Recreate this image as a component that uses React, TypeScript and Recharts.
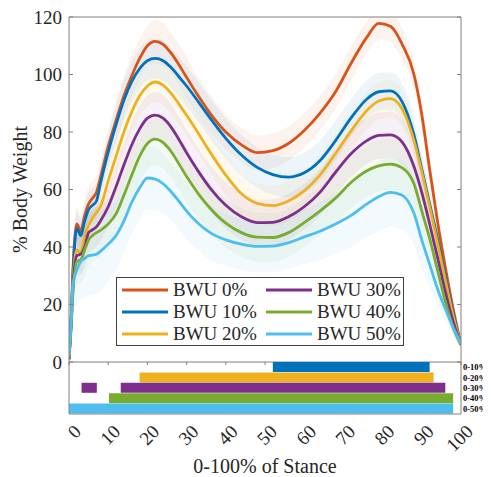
import React from 'react';
import { ComposedChart, Line, Area, XAxis, YAxis, ReferenceLine, BarChart, Bar, Cell, Label } from 'recharts';

// % of stance (x grid shared by every series)
const stance = [0, 0.5, 1, 2, 3, 4, 5, 6, 7, 8, 10, 12, 14, 16, 18, 20, 22, 24, 26, 28, 30, 33, 36, 40, 44, 48, 52, 56, 60, 64, 68, 72, 76, 79, 82, 85, 88, 90, 92, 94, 96, 98, 100];

// mean vertical force, % body weight
const bwu0 = [1, 14, 32, 48, 45.5, 51, 55, 57, 59, 64, 75, 84, 92.5, 99.5, 105.5, 110, 111.5, 110.5, 107.5, 103.5, 99, 92.5, 86.5, 80, 75.5, 72.8, 73.5, 76, 80.5, 86.5, 94, 104, 113, 117.8, 116.8, 110.5, 100, 86, 67, 49, 33, 18.5, 6];
const bwu10 = [1, 13, 30, 46.5, 44, 49, 53, 54.5, 56, 62, 73, 82.5, 91, 97.5, 102, 104.8, 105.6, 104.8, 102.5, 99.3, 96, 90.5, 84.8, 77.8, 72, 67.7, 65.2, 64.3, 65.8, 70, 77, 85, 91.5, 94, 94.3, 90.5, 79, 67, 55, 43, 30, 17, 6];
const bwu20 = [1.5, 12, 27, 39, 38, 44, 47.5, 50, 52, 54, 63, 71.5, 80, 87, 92.5, 96, 97.4, 96.3, 93.5, 89.8, 85.8, 79.5, 73, 65, 58.5, 55.2, 54.4, 56, 59.5, 65, 72.5, 80.5, 87.5, 90.8, 91.6, 88, 77, 66, 54, 41.5, 28.5, 16, 6];
const bwu30 = [1, 12, 26, 37, 37.5, 40, 45, 46, 47, 49, 54, 61, 68.5, 75.5, 81, 84.8, 85.9, 84.8, 81.8, 77.5, 72.8, 66.3, 60.5, 54.5, 50.5, 48.5, 48.6, 50.5, 54, 59, 66, 72.5, 77, 78.8, 79, 76.5, 68, 59, 48, 36.5, 24.5, 14, 6];
const bwu40 = [1.5, 11, 24, 35, 35.5, 39, 42.5, 44, 45, 45.8, 48, 51.5, 58, 65, 71.5, 76, 77.5, 76.3, 73.3, 69, 64.5, 58.5, 53.5, 48.3, 45, 43.4, 43.3, 45, 48.5, 52.5, 57, 62.5, 66.5, 68.2, 68.8, 67.5, 62, 52.5, 43, 32, 21, 12, 6];
const bwu50 = [2, 13, 27, 32, 35, 36, 37, 37.2, 37.5, 38.5, 41, 44, 49, 55.5, 60.5, 64, 63.6, 62, 59.3, 56, 52.5, 48.2, 45, 42.5, 41, 40.2, 40.3, 41.5, 43.5, 45.5, 48, 51, 55, 57.5, 59, 58, 51.7, 42.5, 34, 25.5, 18.5, 12, 6.5];

// standard deviation (shaded bands)
const sd0 = [0.5, 3, 5, 6, 6, 6, 6, 6, 6, 6, 6, 7, 7, 7, 7, 7, 7.5, 7.5, 7, 7, 7, 6.5, 6.5, 6, 6, 6, 6, 6, 6, 6, 6, 6, 5.5, 5.5, 5.5, 5.5, 5, 5, 5, 4, 3, 2, 1];
const sd10 = [0.5, 3, 5, 6, 6, 6, 6, 6, 6, 6, 6, 7, 7, 7, 7, 7, 7, 7, 7, 7, 7, 7, 7, 7, 7, 7, 7, 7, 7, 7, 7, 6.5, 6.5, 6.5, 6.5, 6.5, 6, 5.5, 5, 4, 3, 2, 1];
const sd20 = [0.5, 3, 5, 6, 6, 6, 6, 6, 6, 6, 6, 7, 7, 7, 7, 7, 7, 7, 7, 7, 7, 7, 7, 7, 7, 7, 7, 7, 7, 7, 7, 6.5, 6.5, 6.5, 6.5, 6.5, 6, 5.5, 5, 4, 3, 2, 1];
const sd30 = [0.5, 4, 6, 7, 7, 7, 7, 7, 7, 7, 7, 8, 8, 8, 8, 8, 8, 8, 8, 8, 8, 8, 8, 8, 8, 8, 8, 8, 8, 8, 8, 8, 8, 8, 8, 8, 7, 6, 5, 4, 3, 2, 1];
const sd40 = [0.5, 4, 7, 8, 8, 9, 9, 9, 9, 9, 9, 9, 9, 9, 9, 9, 9, 9, 9, 9, 9, 8.5, 8.5, 8.5, 8.5, 8.5, 8.5, 8.5, 8.5, 8.5, 8.5, 9, 9, 9, 9, 9, 8, 7, 6, 5, 4, 2.5, 1];
const sd50 = [1, 6, 10, 12, 13, 14, 14, 14, 14, 14, 13, 12, 11, 11, 11, 11, 11, 10.5, 10, 10, 10, 9.5, 9.5, 9, 9, 9, 9, 9, 9.5, 10, 10.5, 11, 11.5, 12, 12, 12, 11, 10, 8, 6, 4.5, 3, 1.5];

const seriesNames = ['BWU 0%', 'BWU 10%', 'BWU 20%', 'BWU 30%', 'BWU 40%', 'BWU 50%'];
const seriesColors = ['#D95319', '#0072BD', '#EDB120', '#7E2F8E', '#77AC30', '#4DBEEE'];
const means = [bwu0, bwu10, bwu20, bwu30, bwu40, bwu50];
const sds = [sd0, sd10, sd20, sd30, sd40, sd50];

const xTicks = [0, 10, 20, 30, 40, 50, 60, 70, 80, 90, 100];
const yTicks = [0, 20, 40, 60, 80, 100, 120];

// lower panel: stance intervals per unloading range
const rowLabels = ['0-10%', '0-20%', '0-30%', '0-40%', '0-50%'];
const rowColors = ['#0072BD', '#EDB120', '#7E2F8E', '#77AC30', '#4DBEEE'];
const segAStart = [52, 18, 3.2, 10.2, 0];
const segAEnd = [92, 93, 7.1, 98, 98];
const segBStart = [null, null, 13.2, null, null];
const segBEnd = [null, null, 96, null, null];

const axisGray = '#808080';
const textColor = '#262626';
const serif = 'Times New Roman';

const chartData = stance.map((x, i) => {
  const row: any = { x };
  means.forEach((m, k) => {
    row['m' + k] = m[i];
    row['b' + k] = [m[i] - sds[k][i], m[i] + sds[k][i]];
  });
  return row;
});

const barData = rowLabels.map((row, i) => {
  const hasB = segBStart[i] != null;
  return {
    row,
    gap1: segAStart[i],
    len1: segAEnd[i] - segAStart[i],
    gap2: hasB ? (segBStart[i] as number) - segAEnd[i] : 0,
    len2: hasB ? (segBEnd[i] as number) - (segBStart[i] as number) : 0,
  };
});

function SlantTick({ x, y, payload }: any) {
  const ax = x + 8.5;
  const ay = y + 14;
  return (
    <text x={ax} y={ay} dy="0.35em" textAnchor="end" fontSize={19} fontFamily={serif} fill={textColor} transform={`rotate(-45 ${ax} ${ay})`}>
      {payload.value}
    </text>
  );
}

function RowTick({ x, y, payload }: any) {
  return (
    <text x={x} y={y} dy="0.35em" textAnchor="start" fontSize={8.5} fontWeight="bold" fontFamily={serif} fill="#000">
      {payload.value}
    </text>
  );
}

function LegendBox() {
  return (
    <div style={{ position: 'absolute', left: 116, top: 277, width: 288, height: 69, border: '1px solid #404040', background: '#fff', boxSizing: 'border-box' }}>
      {seriesNames.map((name, i) => {
        const col = Math.floor(i / 3);
        const r = i % 3;
        return (
          <div key={name} style={{ position: 'absolute', left: 5 + col * 144, top: 1 + r * 22, height: 22, display: 'flex', alignItems: 'center' }}>
            <svg width={46} height={4}>
              <line x1={0} y1={2} x2={46} y2={2} stroke={seriesColors[i]} strokeWidth={2.8} />
            </svg>
            <span style={{ marginLeft: 5, fontSize: 19, fontFamily: serif, color: textColor, lineHeight: '22px', whiteSpace: 'nowrap' }}>{name}</span>
          </div>
        );
      })}
    </div>
  );
}

export default function App() {
  return (
    <div style={{ position: 'relative', width: 491, height: 477, margin: '-8px 0 0 -8px', fontFamily: serif, background: '#fff' }}>
      <div style={{ position: 'absolute', left: 0, top: 0 }}>
        <ComposedChart width={491} height={372} data={chartData} margin={{ top: 17, right: 0, left: 0, bottom: 7 }}>
          <XAxis type="number" dataKey="x" domain={[0, 100]} ticks={xTicks} tick={() => <g />} tickSize={3} height={3} stroke={axisGray} allowDataOverflow />
          <YAxis type="number" domain={[0, 120]} ticks={yTicks} interval={0} width={69} tickSize={-4} tickMargin={11} stroke={axisGray} tick={{ fill: textColor, fontSize: 19, fontFamily: serif }} allowDataOverflow>
            <Label value="% Body Weight" angle={-90} position="insideLeft" offset={20} textAnchor="middle" style={{ fontSize: 20, fill: textColor, fontFamily: serif }} />
          </YAxis>
          <YAxis yAxisId="r" orientation="right" type="number" domain={[0, 120]} ticks={yTicks} interval={0} width={30} tickSize={-4} tick={() => <g />} stroke={axisGray} allowDataOverflow />
          <ReferenceLine y={120} stroke={axisGray} />
          {seriesNames.map((name, k) => (
            <Area key={'band' + k} dataKey={'b' + k} type="monotone" stroke="none" fill={seriesColors[k]} fillOpacity={0.07} isAnimationActive={false} />
          ))}
          {seriesNames.map((name, k) => (
            <Line key={'line' + k} dataKey={'m' + k} name={name} type="monotone" stroke={seriesColors[k]} strokeWidth={2.8} dot={false} isAnimationActive={false} />
          ))}
        </ComposedChart>
      </div>
      <div style={{ position: 'absolute', left: 0, top: 362 }}>
        <BarChart width={491} height={115} data={barData} layout="vertical" margin={{ top: 0, right: 0, left: 0, bottom: 0 }} barCategoryGap={0}>
          <XAxis type="number" domain={[0, 100]} ticks={xTicks} interval={0} tickLine={false} tickSize={0} tickMargin={0} height={63} stroke={axisGray} tick={<SlantTick />}>
            <Label value="0-100% of Stance" position="insideBottom" offset={4} style={{ fontSize: 20, fill: textColor, fontFamily: serif }} />
          </XAxis>
          <YAxis type="category" dataKey="row" width={69} tick={false} tickLine={false} stroke={axisGray} />
          <YAxis yAxisId="r" type="category" dataKey="row" orientation="right" width={30} interval={0} tickLine={false} tickSize={0} tickMargin={2} stroke={axisGray} tick={<RowTick />} />
          <Bar dataKey="gap1" stackId="s" fill="transparent" isAnimationActive={false} />
          <Bar dataKey="len1" stackId="s" isAnimationActive={false}>
            {barData.map((d, i) => <Cell key={i} fill={rowColors[i]} />)}
          </Bar>
          <Bar dataKey="gap2" stackId="s" fill="transparent" isAnimationActive={false} />
          <Bar dataKey="len2" stackId="s" isAnimationActive={false}>
            {barData.map((d, i) => <Cell key={i} fill={rowColors[i]} />)}
          </Bar>
        </BarChart>
      </div>
      <LegendBox />
    </div>
  );
}
